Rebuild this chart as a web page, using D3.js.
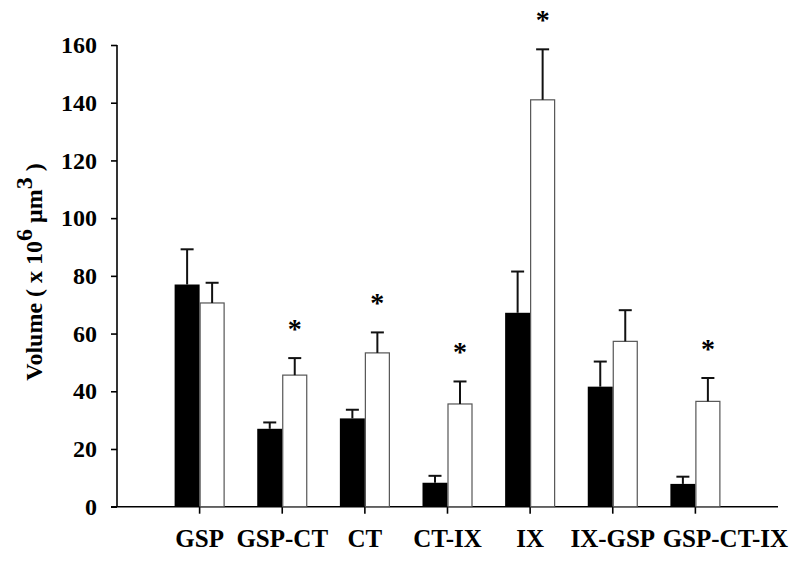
<!DOCTYPE html>
<html><head><meta charset="utf-8">
<script src="https://cdn.jsdelivr.net/npm/d3@7"></script>
<style>body{margin:0;background:#fff}</style>
</head><body>
<svg id="c" width="800" height="567"></svg>
<script>
const categories = ["GSP","GSP-CT","CT","CT-IX","IX","IX-GSP","GSP-CT-IX"];
const blackValues = [77, 27, 30.6, 8.3, 67.2, 41.6, 7.9];
const blackErrors = [12.2, 2.2, 3, 2.4, 14.3, 8.7, 2.5];
const whiteValues = [70.6, 45.6, 53.3, 35.6, 141, 57.3, 36.5];
const whiteErrors = [7, 5.9, 7.1, 7.8, 17.5, 10.8, 8.1];
const significant = [false, true, true, true, true, false, true];
const yTicks = [0,20,40,60,80,100,120,140,160];

const svg = d3.select("#c");
const font = "'Liberation Serif','Times New Roman',serif";
const y = d3.scaleLinear().domain([0,160]).range([506.7,45]);
const x = d3.scaleBand().domain(categories).range([158.3,736.7]);
const axisX0 = 117, axisX1 = 778;
const bw = 25;

// y axis
const yAxis = svg.append("g").attr("transform",`translate(${axisX0},0)`)
  .call(d3.axisLeft(y).tickValues(yTicks).tickSize(6).tickPadding(14).tickFormat(d3.format("d")));
yAxis.select(".domain").attr("stroke","#000").attr("stroke-width",1.6).attr("d",`M0,${y(160)}V${y(0)}`);
yAxis.selectAll(".tick line").attr("stroke","#000").attr("stroke-width",1.6);
yAxis.selectAll(".tick text").attr("font-family",font).attr("font-weight","bold").attr("font-size",24).attr("fill","#000");

// x axis
const xAxis = svg.append("g").attr("transform",`translate(0,${y(0)})`)
  .call(d3.axisBottom(x).tickSize(7).tickPadding(16));
xAxis.select(".domain").attr("stroke","#000").attr("stroke-width",1.6).attr("d",`M${axisX0-6},0H${axisX1}`);
xAxis.selectAll(".tick line").attr("stroke","#000").attr("stroke-width",1.6);
xAxis.selectAll(".tick text").attr("font-family",font).attr("font-weight","bold").attr("font-size",25).attr("fill","#000")
  .attr("dx", (d,i) => i === categories.length-1 ? 30 : 0);

const cx = c => x(c) + x.bandwidth()/2;
const g = svg.append("g");
// black bars
g.selectAll("rect.b").data(categories).join("rect")
  .attr("x", c => cx(c)-bw).attr("width", bw)
  .attr("y", (c,i) => y(blackValues[i])).attr("height",(c,i)=>y(0)-y(blackValues[i]))
  .attr("fill","#000");
// white bars
g.selectAll("rect.w").data(categories).join("rect")
  .attr("x", c => cx(c)+0.5).attr("width", bw-1)
  .attr("y", (c,i) => y(whiteValues[i])).attr("height",(c,i)=>y(0)-y(whiteValues[i]))
  .attr("fill","#fff").attr("stroke","#555").attr("stroke-width",1.2);

function errbars(vals, errs, off){
  categories.forEach((c,i)=>{
    const xc = cx(c)+off;
    const top = y(vals[i]+errs[i]);
    g.append("line").attr("x1",xc).attr("x2",xc).attr("y1",y(vals[i])).attr("y2",top)
      .attr("stroke","#111").attr("stroke-width",2);
    g.append("line").attr("x1",xc-6.5).attr("x2",xc+6.5).attr("y1",top).attr("y2",top)
      .attr("stroke","#111").attr("stroke-width",2);
  });
}
errbars(blackValues, blackErrors, -bw/2);
errbars(whiteValues, whiteErrors, bw/2);

// asterisks
categories.forEach((c,i)=>{
  if(!significant[i]) return;
  g.append("text").attr("x",cx(c)+bw/2).attr("y",y(whiteValues[i]+whiteErrors[i])-34+14)
    .attr("text-anchor","middle").attr("font-family",font).attr("font-weight","bold")
    .attr("font-size",28).text("*");
});

// y label
const yl = svg.append("text").attr("transform","translate(42,272) rotate(-90)")
  .attr("text-anchor","middle").attr("font-family",font).attr("font-weight","bold")
  .attr("font-size",24).attr("fill","#000");
yl.append("tspan").text("Volume ( x 10");
yl.append("tspan").attr("dy",-10).text("6");
yl.append("tspan").attr("dy",10).text(" μm");
yl.append("tspan").attr("dy",-10).text("3");
yl.append("tspan").attr("dy",10).text(" )");
</script>
</body></html>
